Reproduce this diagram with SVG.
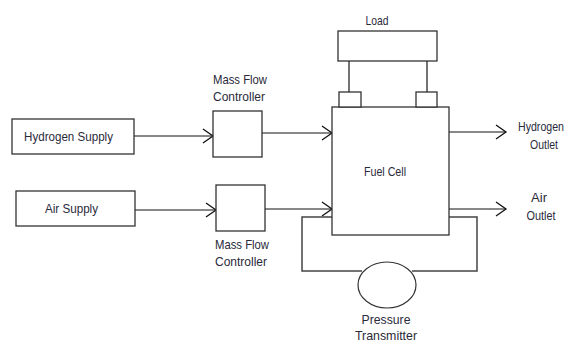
<svg xmlns="http://www.w3.org/2000/svg" width="571" height="343" viewBox="0 0 571 343">
<style>
.box{fill:#fff;stroke:#333;stroke-width:1.3}
.ln{fill:none;stroke:#111;stroke-width:1}
.loop{fill:none;stroke:#444;stroke-width:1.5}
text{font-family:"Liberation Sans",Arial,sans-serif;font-size:13.5px;fill:#2a2a3a;text-anchor:middle}
</style>
<defs>
<marker id="ah" markerUnits="userSpaceOnUse" markerWidth="14" markerHeight="18" refX="12" refY="8" orient="auto" viewBox="0 0 14 16">
<path d="M2,1 L12,8 L2,15" fill="none" stroke="#111" stroke-width="1.3"/>
</marker>
</defs>
<rect width="571" height="343" fill="#fff"/>
<g id="connectors">
<line class="ln" x1="134" y1="136" x2="213" y2="136" marker-end="url(#ah)"/>
<line class="ln" x1="135" y1="210" x2="216" y2="210" marker-end="url(#ah)"/>
<line class="ln" x1="262" y1="133" x2="332" y2="133" marker-end="url(#ah)"/>
<line class="ln" x1="265" y1="209" x2="332" y2="209" marker-end="url(#ah)"/>
<line class="ln" x1="448" y1="132" x2="506" y2="132" marker-end="url(#ah)"/>
<line class="ln" x1="449" y1="209" x2="506" y2="209" marker-end="url(#ah)"/>
<polyline class="loop" points="332,217 302,217 302,271 362,271"/>
<polyline class="loop" points="449,217 477,217 477,271 412,271"/>
<line class="loop" x1="349" y1="61" x2="349" y2="92"/>
<line class="loop" x1="427" y1="61" x2="427" y2="92"/>
</g>
<g id="hydrogen-supply">
<rect class="box" x="12" y="119" width="122" height="35"/>
<text x="68.5" y="141" textLength="89" lengthAdjust="spacingAndGlyphs">Hydrogen Supply</text>
</g>
<g id="air-supply">
<rect class="box" x="16" y="191" width="119" height="35"/>
<text x="71.5" y="213" textLength="53" lengthAdjust="spacingAndGlyphs">Air Supply</text>
</g>
<g id="mfc1">
<rect class="box" x="213" y="111" width="49" height="46"/>
<text x="240" y="84" textLength="54" lengthAdjust="spacingAndGlyphs">Mass Flow</text>
<text x="239" y="101" textLength="52" lengthAdjust="spacingAndGlyphs">Controller</text>
</g>
<g id="mfc2">
<rect class="box" x="216" y="185" width="49" height="46"/>
<text x="242" y="249" textLength="54" lengthAdjust="spacingAndGlyphs">Mass Flow</text>
<text x="241" y="266" textLength="52" lengthAdjust="spacingAndGlyphs">Controller</text>
</g>
<g id="fuel-cell">
<rect class="box" x="332" y="107" width="117" height="128"/>
<rect class="box" x="339" y="92" width="22" height="15"/>
<rect class="box" x="416" y="92" width="21" height="15"/>
<text x="385" y="176" textLength="42" lengthAdjust="spacingAndGlyphs">Fuel Cell</text>
</g>
<g id="load">
<rect class="box" x="338" y="31" width="99" height="30"/>
<text x="377" y="25" textLength="23" lengthAdjust="spacingAndGlyphs">Load</text>
</g>
<g id="hydrogen-outlet">
<text x="541" y="131" style="font-size:12px" textLength="46" lengthAdjust="spacingAndGlyphs">Hydrogen</text>
<text x="544" y="149" textLength="28" lengthAdjust="spacingAndGlyphs">Outlet</text>
</g>
<g id="air-outlet">
<text x="539" y="202" textLength="16" lengthAdjust="spacingAndGlyphs">Air</text>
<text x="541" y="220" textLength="29" lengthAdjust="spacingAndGlyphs">Outlet</text>
</g>
<g id="pressure-transmitter">
<ellipse cx="387" cy="285" rx="29" ry="23" fill="#fff" stroke="#333" stroke-width="1.2"/>
<text x="386" y="324" textLength="49" lengthAdjust="spacingAndGlyphs">Pressure</text>
<text x="386" y="339.5" textLength="62" lengthAdjust="spacingAndGlyphs">Transmitter</text>
</g>
</svg>
